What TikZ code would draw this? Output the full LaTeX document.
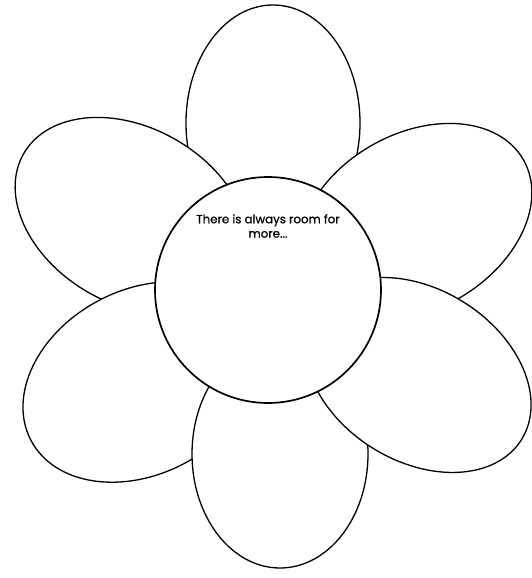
\documentclass[tikz,border=0pt]{standalone}
\usepackage{fontspec}
\setmainfont{Poppins}
\newfontfamily\devisefont{Poppins}[FakeBold=0.7]
\usepackage{tikz}

\begin{document}
\begin{tikzpicture}[x=1pt, y=-1pt,
  petale/.style={draw=black, fill=white, line width=1.3pt},
  coeur/.style={draw=black, fill=white, line width=1.7pt}]
  \useasboundingbox (0,0) rectangle (531,578);
  % Pétale du haut
  \draw[petale] (273,123) ellipse [x radius=87, y radius=118];
  % Pétales du haut, à gauche et à droite
  \draw[petale, rotate around={-30:(132,216)}] (132,216) ellipse [x radius=125, y radius=88];
  \draw[petale, rotate around={30:(415,222)}] (415,222) ellipse [x radius=125, y radius=88];
  % Pétale du bas à gauche, puis pétale du bas
  \draw[petale, rotate around={28:(141.5,382)}] (141.5,382) ellipse [x radius=125, y radius=92];
  \draw[petale] (280,454) ellipse [x radius=88, y radius=114];
  % Pétale du bas à droite
  \draw[petale, rotate around={-32:(418,375)}] (418,375) ellipse [x radius=122, y radius=86];
  % Coeur de la fleur
  \draw[coeur] (268,290) circle [radius=113];
  \node[font=\devisefont\fontsize{11.8}{14.4}\selectfont, align=center] (devise) at (268,226)
    {There is always room for\\more...};
\end{tikzpicture}
\end{document}
